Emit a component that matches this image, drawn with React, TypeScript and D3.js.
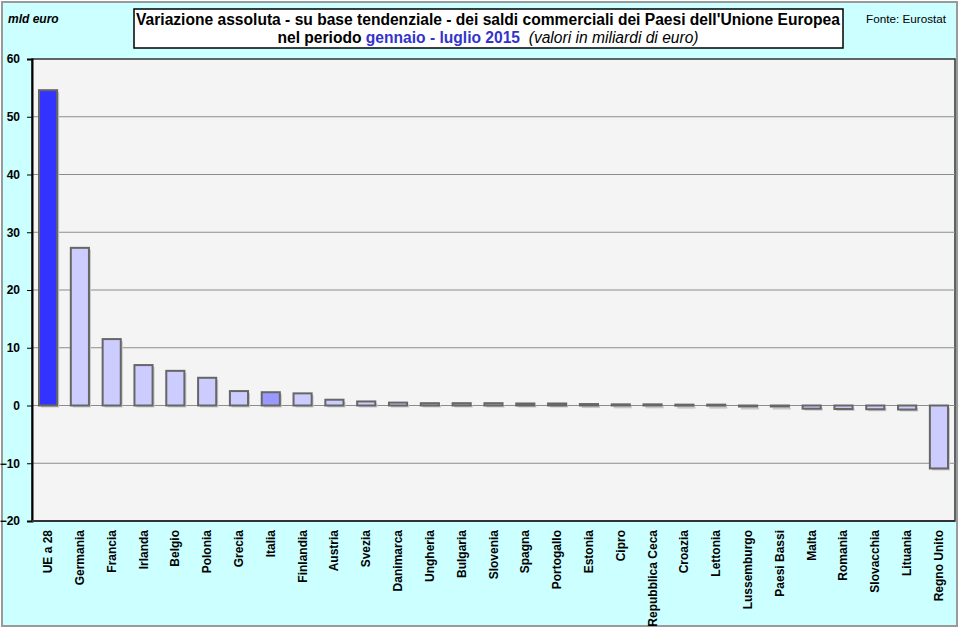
import React, { useEffect, useRef } from "react";
import * as d3 from "d3";

const countries = [
  "UE a 28", "Germania", "Francia", "Irlanda", "Belgio", "Polonia", "Grecia", "Italia",
  "Finlandia", "Austria", "Svezia", "Danimarca", "Ungheria", "Bulgaria", "Slovenia",
  "Spagna", "Portogallo", "Estonia", "Cipro", "Repubblica Ceca", "Croazia", "Lettonia",
  "Lussemburgo", "Paesi Bassi", "Malta", "Romania", "Slovacchia", "Lituania", "Regno Unito",
];

// variazione assoluta, miliardi di euro
const values = [
  54.6, 27.3, 11.5, 7.0, 6.0, 4.8, 2.5, 2.3, 2.1, 1.0, 0.7, 0.5, 0.4, 0.4, 0.4,
  0.35, 0.35, 0.25, 0.2, 0.2, 0.15, 0.15, -0.15, -0.15, -0.55, -0.6, -0.65, -0.7, -10.9,
];

const yTicks = [60, 50, 40, 30, 20, 10, 0, -10, -20];

const W = 960;
const H = 629;
const FONT = "'Liberation Sans', Arial, sans-serif";

const App: React.FC = () => {
  const svgRef = useRef<SVGSVGElement | null>(null);

  useEffect(() => {
    const svg = d3.select(svgRef.current);
    svg.selectAll("*").remove();

    const left = 32, right = 955, top = 59, bottom = 521;

    const x = d3.scaleBand<string>()
      .domain(countries)
      .range([left, right])
      .paddingInner(0.43)
      .paddingOuter(0.22);

    const y = d3.scaleLinear().domain([-20, 60]).range([bottom, top]);

    // outer frame
    svg.append("rect")
      .attr("x", 2).attr("y", 2)
      .attr("width", W - 5).attr("height", H - 5)
      .attr("fill", "#ccffff")
      .attr("stroke", "#9a9a9a")
      .attr("stroke-width", 2);

    // plot area
    svg.append("rect")
      .attr("x", left).attr("y", top)
      .attr("width", right - left).attr("height", bottom - top)
      .attr("fill", "#f4f4f4")
      .attr("stroke", "#333")
      .attr("stroke-width", 1.5);

    // gridlines
    svg.append("g")
      .selectAll("line")
      .data(yTicks.filter(t => t !== 60 && t !== -20))
      .join("line")
      .attr("x1", left).attr("x2", right)
      .attr("y1", d => y(d)).attr("y2", d => y(d))
      .attr("stroke", "#8c8c8c")
      .attr("stroke-width", 1);

    // y axis
    const yAxis = svg.append("g")
      .attr("transform", `translate(${left},0)`)
      .call(d3.axisLeft(y).tickValues(yTicks).tickSize(5).tickPadding(7).tickFormat(d3.format("d")));
    yAxis.select(".domain").attr("stroke", "#000").attr("stroke-width", 2);
    yAxis.selectAll(".tick line").attr("stroke", "#000");
    yAxis.selectAll(".tick text")
      .attr("font-family", FONT)
      .attr("font-size", 12)
      .attr("font-weight", "bold")
      .attr("fill", "#000");

    // bottom axis line
    svg.append("line")
      .attr("x1", left).attr("x2", right)
      .attr("y1", bottom).attr("y2", bottom)
      .attr("stroke", "#333")
      .attr("stroke-width", 2);

    const fillFor = (name: string) =>
      name === "UE a 28" ? "#3333ff" : name === "Italia" ? "#9999ff" : "#ccccff";

    const data = countries.map((c, i) => ({ c, v: values[i] }));

    // shadows
    svg.append("g")
      .selectAll("rect")
      .data(data)
      .join("rect")
      .attr("x", d => (x(d.c) as number) + 2)
      .attr("y", d => Math.min(y(d.v), y(0)) + 2)
      .attr("width", x.bandwidth())
      .attr("height", d => Math.max(Math.abs(y(d.v) - y(0)), 2))
      .attr("fill", "#c8c8c8");

    // bars
    svg.append("g")
      .selectAll("rect")
      .data(data)
      .join("rect")
      .attr("x", d => x(d.c) as number)
      .attr("y", d => Math.min(y(d.v), y(0)))
      .attr("width", x.bandwidth())
      .attr("height", d => Math.max(Math.abs(y(d.v) - y(0)), 1))
      .attr("fill", d => fillFor(d.c))
      .attr("stroke", "#666")
      .attr("stroke-width", 2);

    // category labels
    svg.append("g")
      .selectAll("text")
      .data(countries)
      .join("text")
      .attr("transform", d => `translate(${(x(d) as number) + x.bandwidth() / 2 + 4},${bottom + 9}) rotate(-90)`)
      .attr("text-anchor", "end")
      .attr("font-family", FONT)
      .attr("font-size", 12)
      .attr("font-weight", "bold")
      .text(d => d);

    // unit label
    svg.append("text")
      .attr("x", 8).attr("y", 23)
      .attr("font-family", FONT)
      .attr("font-size", 12)
      .attr("font-weight", "bold")
      .attr("font-style", "italic")
      .text("mld euro");

    // title box
    svg.append("rect")
      .attr("x", 134).attr("y", 9)
      .attr("width", 709).attr("height", 39)
      .attr("fill", "#fff")
      .attr("stroke", "#000")
      .attr("stroke-width", 1.5);

    svg.append("text")
      .attr("x", 488).attr("y", 25)
      .attr("text-anchor", "middle")
      .attr("font-family", FONT)
      .attr("font-size", 15.6)
      .attr("font-weight", "bold")
      .text("Variazione assoluta - su base tendenziale - dei saldi commerciali dei Paesi dell'Unione Europea");

    const t2 = svg.append("text")
      .attr("x", 488).attr("y", 43)
      .attr("text-anchor", "middle")
      .attr("font-family", FONT)
      .attr("font-size", 15.6);
    t2.append("tspan").attr("font-weight", "bold").text("nel periodo ");
    t2.append("tspan").attr("font-weight", "bold").attr("fill", "#3333cc").text("gennaio - luglio 2015");
    t2.append("tspan").attr("font-style", "italic").text("\u00a0\u00a0(valori in miliardi di euro)");

    svg.append("text")
      .attr("x", 906).attr("y", 23)
      .attr("text-anchor", "middle")
      .attr("font-family", FONT)
      .attr("font-size", 11.5)
      .attr("textLength", 80)
      .attr("lengthAdjust", "spacingAndGlyphs")
      .text("Fonte: Eurostat");
  }, []);

  return (
    <svg
      ref={svgRef}
      width={W}
      height={H}
      style={{ position: "absolute", left: 0, top: 0 }}
    />
  );
};

export default App;
